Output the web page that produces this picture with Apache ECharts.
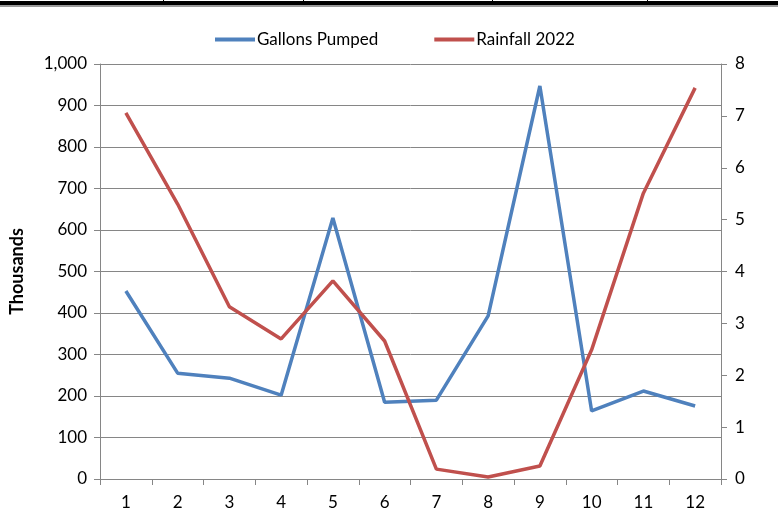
<!DOCTYPE html>
<html>
<head>
<meta charset="utf-8">
<script src="https://cdn.jsdelivr.net/npm/echarts@6/dist/echarts.min.js"></script>
<style>
  html, body { margin: 0; padding: 0; background: #fff; }
  #chart { width: 778px; height: 525px; }
</style>
</head>
<body>
<div id="chart"></div>
<script>
const months = ['1', '2', '3', '4', '5', '6', '7', '8', '9', '10', '11', '12']
const gallonsPumped = [453, 255, 243, 202, 629, 185, 190, 393, 947, 164, 212, 176]
const rainfall2022 = [7.06, 5.30, 3.32, 2.70, 3.82, 2.66, 0.19, 0.04, 0.25, 2.49, 5.51, 7.54]

const font = 'Lato, "Open Sans", sans-serif'
const axisGray = '#868686'

var myChart = echarts.init(document.getElementById('chart'))
myChart.setOption({
  animation: false,
  textStyle: { fontFamily: font },
  // table border remnant at the top of the picture
  graphic: [
    { type: 'rect', shape: { x: 0, y: 1, width: 778, height: 4 }, style: { fill: '#000' } },
    { type: 'rect', shape: { x: 0, y: 5, width: 778, height: 2 }, style: { fill: '#9a9a9a' } },
    { type: 'rect', shape: { x: 163, y: 0, width: 1, height: 2 }, style: { fill: '#000' } },
    { type: 'rect', shape: { x: 303, y: 0, width: 1, height: 2 }, style: { fill: '#000' } },
    { type: 'rect', shape: { x: 492, y: 0, width: 1, height: 2 }, style: { fill: '#000' } },
    { type: 'rect', shape: { x: 647, y: 0, width: 1, height: 2 }, style: { fill: '#000' } }
  ],
  legend: {
    top: 26,
    left: 210,
    itemWidth: 40,
    itemHeight: 4,
    itemGap: 56,
    icon: 'rect',
    textStyle: { fontFamily: font, fontSize: 17, color: '#000', padding: [0, 0, 0, -3] },
    data: ['Gallons Pumped', 'Rainfall 2022']
  },
  grid: {
    left: 100,
    right: 57,
    top: 64,
    bottom: 46
  },
  xAxis: {
    type: 'category',
    data: months,
    boundaryGap: true,
    axisLine: { lineStyle: { color: axisGray, width: 1 } },
    axisTick: { show: true, length: 6, lineStyle: { color: axisGray } },
    axisLabel: { color: '#000', fontSize: 17, margin: 15, fontFamily: font }
  },
  yAxis: [
    {
      type: 'value',
      min: 0,
      max: 1000,
      interval: 100,
      name: 'Thousands',
      nameLocation: 'middle',
      nameGap: 74,
      nameTextStyle: { fontWeight: 'bold', fontSize: 18, color: '#000', fontFamily: font },
      axisLine: { show: true, lineStyle: { color: axisGray } },
      axisTick: { show: true, length: 6, lineStyle: { color: axisGray } },
      axisLabel: {
        color: '#000',
        fontSize: 17,
        margin: 13,
        fontFamily: font,
        formatter: v => v.toLocaleString('en-US')
      },
      splitLine: { show: true, lineStyle: { color: axisGray, width: 1 } }
    },
    {
      type: 'value',
      min: 0,
      max: 8,
      interval: 1,
      position: 'right',
      axisLine: { show: true, lineStyle: { color: axisGray } },
      axisTick: { show: true, length: 6, lineStyle: { color: axisGray } },
      axisLabel: { color: '#000', fontSize: 17, margin: 14, fontFamily: font },
      splitLine: { show: false }
    }
  ],
  series: [
    {
      name: 'Gallons Pumped',
      type: 'line',
      yAxisIndex: 0,
      data: gallonsPumped,
      symbol: 'none',
      color: '#4F81BD',
      lineStyle: { width: 3.5, color: '#4F81BD' }
    },
    {
      name: 'Rainfall 2022',
      type: 'line',
      yAxisIndex: 1,
      data: rainfall2022,
      symbol: 'none',
      color: '#C0504D',
      lineStyle: { width: 3.5, color: '#C0504D' }
    }
  ]
})
</script>
</body>
</html>
